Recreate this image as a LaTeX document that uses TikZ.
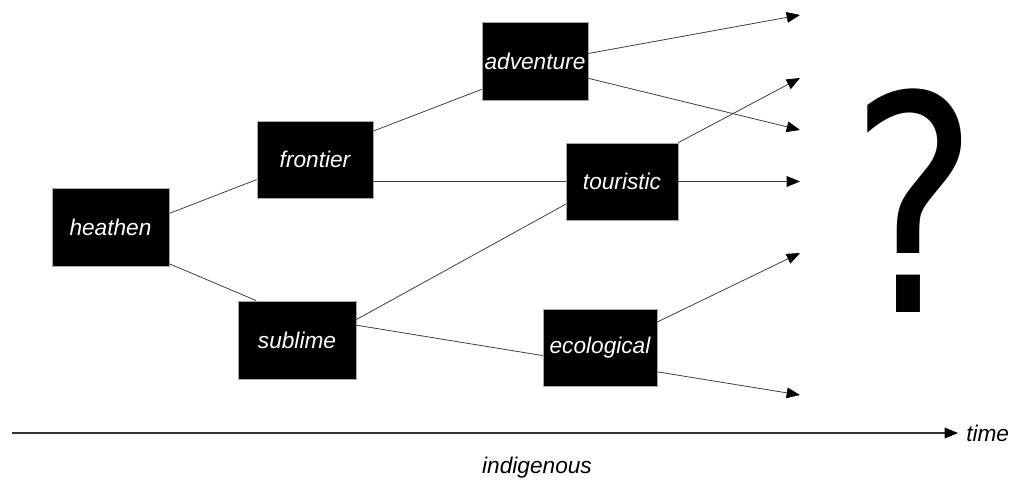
\documentclass[tikz,border=0pt]{standalone}
\usepackage{fontspec}
\setmainfont{Liberation Sans}
\newfontfamily\qfont{DejaVu Sans}
\usetikzlibrary{arrows.meta}
\begin{document}
\begin{tikzpicture}[x=0.75pt,y=-0.75pt,
  stage/.style={fill=black,draw=gray!70,line width=0.6pt,inner sep=0pt,
    font=\fontsize{17}{18}\selectfont\itshape,text=white},
  tip/.style={-{Triangle[length=10pt,width=8pt,fill=black,color=black]}},
  link/.style={draw=black!75,line width=0.6pt},
  flow/.style={link,tip}]
\useasboundingbox (0,0) rectangle (1016,484);

% stages of the image
\node[stage,minimum width=87.75pt,minimum height=58.5pt] (heathen) at (110.5,227) {heathen};
\node[stage,minimum width=87pt,minimum height=57.75pt] (frontier) at (315,159.5) {frontier};
\node[stage,minimum width=88.5pt,minimum height=58.5pt] (sublime) at (297,340) {sublime};
\node[stage,minimum width=79.5pt,minimum height=58.5pt] (adventure) at (535,61) {adventure};
\node[stage,minimum width=84pt,minimum height=57.75pt] (touristic) at (622,181.5) {touristic};
\node[stage,minimum width=85.5pt,minimum height=57.75pt] (ecological) at (600,347.5) {ecological};

% open ends of the branches
\coordinate (o1) at (800,15);
\coordinate (o2) at (800,78);
\coordinate (o3) at (800,130);
\coordinate (o4) at (800,181.5);
\coordinate (o5) at (800,253);
\coordinate (o6) at (800,395);

% branches
\draw[link] (heathen.13) -- (frontier.199);
\draw[link] (heathen.-32) -- (sublime.136);
\draw[link] (frontier.26) -- (adventure.208);
\draw[link] (frontier.east |- touristic.west) -- (touristic.west);
\draw[link] (sublime.19.6) -- (touristic.202);
\draw[link] (sublime.14.3) -- (ecological.188.5);

\draw[flow] (adventure.8.6) -- (o1);
\draw[flow] (adventure.-18) -- (o3);
\draw[flow] (touristic.north east) -- (o2);
\draw[flow] (touristic.east) -- (o4);
\draw[flow] (ecological.24) -- (o5);
\draw[flow] (ecological.-23) -- (o6);

% the unknown future
\node[inner sep=0pt,xscale=0.8,font=\qfont\fontsize{226}{226}\selectfont] (q) at (914.5,201) {?};

% time axis
\coordinate (t0) at (12,433);
\node[inner sep=0pt,anchor=west,font=\fontsize{17}{18}\selectfont\itshape] (time) at (966,433) {time};
\draw[black!80,line width=0.9pt,tip] (t0) -- (time.west -| 958,0);
\node[inner sep=0pt,font=\fontsize{17}{18}\selectfont\itshape] (indig) at (537,468) {indigenous};
\end{tikzpicture}
\end{document}
